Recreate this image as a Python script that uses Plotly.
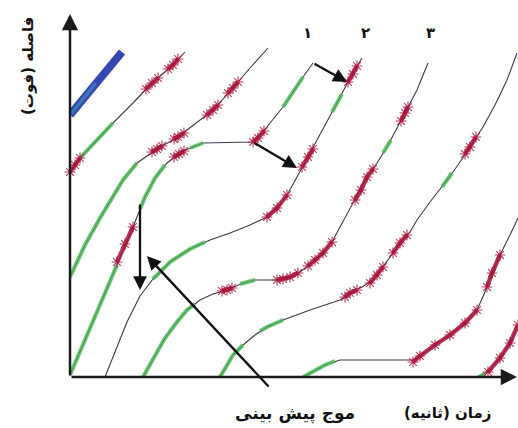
import plotly.graph_objects as go

# Vehicle trajectories: time (x) vs distance (y), one list pair per vehicle
t1_x = [0, 26, 52]
t1_y = [262, 294, 325]

t2_x = [0, 10, 27, 43, 63, 82, 103, 115]
t2_y = [205, 219, 237, 254, 274, 294, 312, 325]

t3_x = [0, 15, 30, 53, 67, 87, 108, 127, 143, 163, 180, 198]
t3_y = [100, 132, 159, 197, 214, 228, 240, 255, 267, 289, 309, 329]

t4_x = [0, 18, 35, 50, 63, 75, 85, 97, 113, 133, 183, 192, 213, 233, 243]
t4_y = [2, 44, 85, 119, 150, 180, 199, 214, 226, 234, 235, 244, 270, 300, 314]

t5_x = [35, 45, 57, 70, 83, 100, 120, 140, 160, 180, 197, 207, 217, 227, 238, 250, 267, 280, 292]
t5_y = [0, 25, 55, 81, 98, 115, 128, 137, 144, 152, 160, 169, 182, 200, 220, 242, 274, 299, 319]

t6_x = [73, 85, 95, 107, 117, 130, 143, 157, 173, 185, 207, 220, 230, 243, 253, 263, 273, 283,
        297, 307, 317, 327, 335, 347, 358]
t6_y = [0, 22, 39, 55, 67, 77, 83, 87, 94, 97, 97, 100, 105, 115, 124, 137, 155, 174,
        200, 214, 230, 249, 264, 287, 314]

t7_x = [150, 163, 173, 185, 197, 213, 240, 270, 280, 292, 303, 313, 323, 330, 340, 347, 360,
        377, 388, 400, 413, 425, 437, 447]
t7_y = [0, 22, 32, 42, 50, 57, 67, 77, 84, 90, 97, 110, 124, 134, 145, 157, 175,
        197, 212, 230, 250, 272, 297, 324]

t8_x = [233, 242, 255, 270, 343, 350, 365, 380, 395, 407, 415, 422, 430, 440, 448]
t8_y = [0, 5, 12, 17, 17, 21, 32, 42, 54, 67, 85, 104, 122, 142, 159]

t9_x = [408, 420, 430, 440, 448]
t9_y = [0, 7, 19, 34, 52]

trajectories = [(t2_x, t2_y), (t3_x, t3_y), (t4_x, t4_y), (t5_x, t5_y),
                (t6_x, t6_y), (t7_x, t7_y), (t8_x, t8_y), (t9_x, t9_y)]

# Detection bands along the trajectories
green_bands = [
    ([10, 27, 43], [219, 237, 254]),
    ([0, 15, 30, 53, 67], [100, 132, 159, 197, 214]),
    ([0, 18, 35, 47], [2, 44, 85, 112]),
    ([70, 75, 85, 95], [168, 180, 199, 212]),
    ([120, 127, 133], [229, 232, 234]),
    ([213, 223, 233], [270, 285, 300]),
    ([83, 100, 120, 135], [98, 115, 128, 135]),
    ([262, 267, 272], [265, 274, 283]),
    ([73, 85, 95, 107, 117, 125], [0, 22, 39, 55, 67, 73]),
    ([170, 177, 185], [93, 95, 97]),
    ([313, 317, 321], [224, 230, 237]),
    ([150, 163, 173], [0, 22, 32]),
    ([190, 197, 213], [46, 50, 57]),
    ([372, 377, 382], [190, 197, 204]),
    ([233, 242, 255, 265], [0, 5, 12, 16]),
    ([408, 415], [0, 3]),
]

red_bands = [
    ([0, 5, 10], [205, 212, 219]),
    ([76, 82, 88], [288, 294, 299]),
    ([98, 103, 108], [308, 312, 318]),
    ([82, 87, 92], [225, 228, 231]),
    ([104, 108, 114], [238, 240, 244]),
    ([137, 143, 148], [262, 267, 272]),
    ([158, 163, 168], [284, 289, 295]),
    ([47, 55, 63], [115, 133, 150]),
    ([104, 109, 114], [220, 223, 226]),
    ([183, 188, 194], [235, 239, 246]),
    ([197, 207, 217], [160, 169, 182]),
    ([232, 238, 243], [210, 220, 228]),
    ([278, 283, 287], [295, 303, 311]),
    ([152, 157, 162], [86, 87, 89]),
    ([207, 213, 220, 228], [97, 98, 100, 104]),
    ([238, 245, 253, 262], [111, 117, 124, 135]),
    ([285, 291, 297, 303], [177, 187, 200, 208]),
    ([331, 335, 338], [256, 264, 270]),
    ([275, 280, 287], [80, 84, 87]),
    ([300, 307, 313], [94, 102, 110]),
    ([323, 330, 337], [124, 134, 142]),
    ([395, 400, 406], [223, 230, 240]),
    ([343, 350, 365, 380, 395, 407], [15, 21, 32, 42, 54, 67]),
    ([417, 422, 430], [90, 104, 122]),
    ([418, 430, 440, 448], [5, 19, 34, 52]),
]

# Shift arrows: (head_x, head_y, tail_x, tail_y)
arrows = [
    (277, 295, 243, 314),
    (227, 209, 183, 235),
    (70, 87, 70, 174),
    (77, 121, 200, -11),
]

trip_labels = ["۱", "۲", "۳"]
label_x = [237, 295, 360]
label_y = [344, 344, 344]

LINE = "#3f3850"
GREEN = "rgba(70,182,80,0.8)"
RED = "rgba(168,20,60,0.85)"
RED_MARK = "#b3174f"
BLUE = "#3548b0"

fig = go.Figure()

for xs, ys in trajectories:
    fig.add_trace(go.Scatter(x=xs, y=ys, mode="lines", cliponaxis=False,
                             line=dict(color=LINE, width=1.1), hoverinfo="skip"))

for xs, ys in green_bands:
    fig.add_trace(go.Scatter(x=xs, y=ys, mode="lines", cliponaxis=False,
                             line=dict(color=GREEN, width=4), hoverinfo="skip"))

for xs, ys in red_bands:
    fig.add_trace(go.Scatter(x=xs, y=ys, mode="lines+markers", cliponaxis=False,
                             line=dict(color=RED, width=4.5),
                             marker=dict(symbol="asterisk-open", size=9,
                                         line=dict(color=RED_MARK, width=1.1)),
                             hoverinfo="skip"))

# Blue band of the leading vehicle
fig.add_trace(go.Scatter(x=t1_x, y=t1_y, mode="lines", cliponaxis=False,
                         line=dict(color=BLUE, width=8), hoverinfo="skip"))
fig.add_trace(go.Scatter(x=t1_x[:2], y=t1_y[:2], mode="lines", cliponaxis=False,
                         line=dict(color="rgba(60,160,190,0.55)", width=3), hoverinfo="skip"))

ann = []
# axes drawn as arrows
ann.append(dict(x=0, y=363, ax=0, ay=0, xref="x", yref="y", axref="x", ayref="y",
                text="", showarrow=True, arrowhead=2, arrowsize=1.3, arrowwidth=2.5,
                arrowcolor="#1a1a1a"))
ann.append(dict(x=447, y=0, ax=0, ay=0, xref="x", yref="y", axref="x", ayref="y",
                text="", showarrow=True, arrowhead=2, arrowsize=1.3, arrowwidth=2.5,
                arrowcolor="#1a1a1a"))
for hx, hy, tx, ty in arrows:
    ann.append(dict(x=hx, y=hy, ax=tx, ay=ty, xref="x", yref="y", axref="x", ayref="y",
                    text="", showarrow=True, arrowhead=2, arrowsize=1.2, arrowwidth=2.3,
                    arrowcolor="#111111"))

FONT = "DejaVu Sans"
for lx, ly, txt in zip(label_x, label_y, trip_labels):
    ann.append(dict(x=lx, y=ly, xref="x", yref="y", text="<b>" + txt + "</b>",
                    xanchor="center", yanchor="middle",
                    showarrow=False, font=dict(family=FONT, size=15, color="#111")))

# titles placed in paper coordinates so they sit outside the plotting area
ann.append(dict(x=-42 / 448, y=311 / 377, xref="paper", yref="paper",
                xanchor="center", yanchor="middle",
                text="<b>فاصله (فوت)</b>", textangle=-90, showarrow=False,
                font=dict(family=FONT, size=15, color="#111")))
ann.append(dict(x=225 / 448, y=-36 / 377, xref="paper", yref="paper",
                xanchor="center", yanchor="middle",
                text="<b>موج پیش بینی</b>", showarrow=False,
                font=dict(family=FONT, size=17, color="#111")))
ann.append(dict(x=377 / 448, y=-36 / 377, xref="paper", yref="paper",
                xanchor="center", yanchor="middle",
                text="<b>زمان (ثانیه)</b>", showarrow=False,
                font=dict(family=FONT, size=15, color="#111")))

fig.update_layout(
    width=518, height=428,
    margin=dict(l=70, r=0, t=0, b=51),
    paper_bgcolor="white", plot_bgcolor="white",
    showlegend=False,
    xaxis=dict(range=[0, 448], visible=False, fixedrange=True),
    yaxis=dict(range=[0, 377], visible=False, fixedrange=True),
    annotations=ann,
)

fig.write_html("out.html")
